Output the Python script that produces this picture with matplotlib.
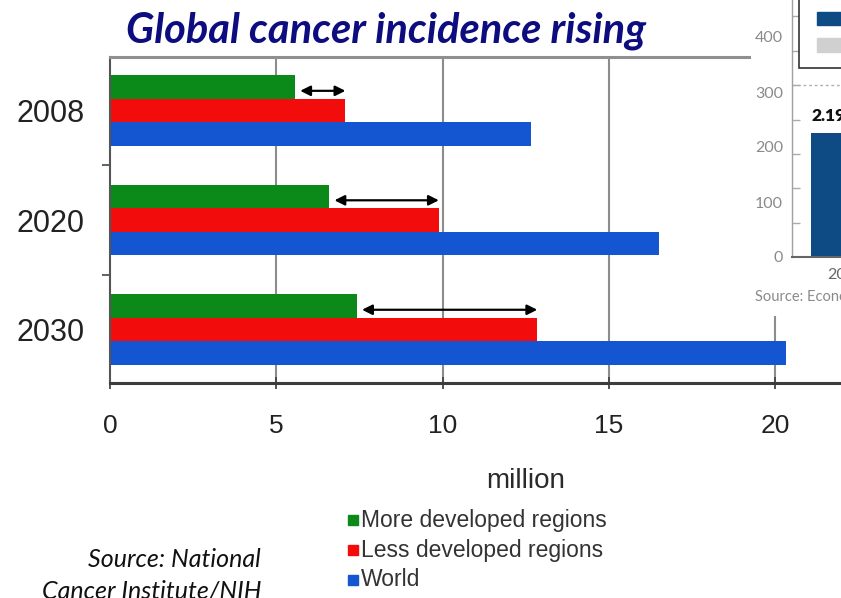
import matplotlib.pyplot as plt
from matplotlib.patches import Rectangle
from matplotlib.ticker import MultipleLocator

plt.rcParams['font.family'] = ['Liberation Sans', 'DejaVu Sans']

# cancer incidence, million cases
years = ['2008', '2020', '2030']
more_dev = [5.57, 6.6, 7.43]
less_dev = [7.08, 9.89, 12.85]
world = [12.67, 16.5, 20.33]
series_names = ['More developed regions', 'Less developed regions', 'World']
colors = ['#0b8a1a', '#f20c0c', '#1456d2']
x_ticks = [0, 5, 10, 15, 20]

# the neighbouring chart that overlaps the right edge
side_ticks = [0, 100, 200, 300, 400]
side_bar = [225]
side_bar_label = '2.19'
side_years = ['2019']

W, H = 841, 598
fig = plt.figure(figsize=(W / 100, H / 100), dpi=100)


def fx(px):
    return px / W


def fy(py):
    return 1 - py / H


ax = fig.add_axes([fx(110), fy(383), fx(841) - fx(110), fy(57) - fy(383)])
h = 0.215
for k, (vals, c) in enumerate(zip([more_dev, less_dev, world], colors)):
    ax.barh([i + (k - 1) * h for i in range(len(years))], vals,
            height=h, color=c, zorder=2)

# gap between more / less developed regions
for i in range(len(years)):
    ya = i - h + 0.035
    ax.annotate('', xy=(less_dev[i], ya), xytext=(more_dev[i] + 0.15, ya),
                arrowprops=dict(arrowstyle='<|-|>,head_length=0.6,head_width=0.3',
                                color='black', lw=1.6, mutation_scale=10,
                                shrinkA=0, shrinkB=0),
                zorder=3)

for v in x_ticks[1:]:
    ax.axvline(v, color='#8c8c8c', lw=1.5, zorder=1)

ax.set_xlim(0, 731 / 33.25)
ax.set_ylim(2.489, -0.489)

ax.spines['right'].set_visible(False)
ax.spines['top'].set_color('#8f8f8f')
ax.spines['top'].set_linewidth(2.2)
ax.spines['left'].set_color('#555555')
ax.spines['left'].set_linewidth(1.5)
ax.spines['bottom'].set_color('#3c3c3c')
ax.spines['bottom'].set_linewidth(2.2)

ax.set_xticks(x_ticks)
ax.tick_params(axis='x', direction='inout', length=9, width=1.3, color='#444444',
               labelsize=19, labelcolor='#222222', pad=18)
ax.set_yticks(range(len(years)))
ax.set_yticklabels(years)
ax.tick_params(axis='y', which='major', length=0, pad=18, labelsize=22,
               labelcolor='#222222')
ax.set_yticks([0.5, 1.5], minor=True)
ax.tick_params(axis='y', which='minor', direction='out', length=6, width=1.3,
               color='#555555')

# legend
for k, name in enumerate(series_names):
    yy = 520 + k * 30
    fig.add_artist(Rectangle((fx(348), fy(yy + 5)), 10 / W, 10 / H,
                             transform=fig.transFigure, color=colors[k]))
    fig.text(fx(361), fy(yy), name, ha='left', va='center', fontsize=16.5,
             color='#333333')

fig.text(fx(526), fy(481), 'million', ha='center', va='center', fontsize=20,
         color='#2a2a2a')

fig.text(fx(386), fy(43), 'Global cancer incidence rising', ha='center',
         va='baseline', fontsize=30, family='Lato', weight='bold',
         style='italic', color='#0d0d80')

source_lines = ['Source: National', 'Cancer Institute/NIH']
for k, line in enumerate(source_lines):
    fig.text(fx(261), fy(567 + k * 31), line, ha='right', va='baseline',
             fontsize=18, family='Lato', style='italic', color='#111111')

# pasted-over chart at the right edge
fig.add_artist(Rectangle((fx(751), fy(316)), 1 - fx(751) + 0.01, 316 / H + 0.01,
                         transform=fig.transFigure, facecolor='white',
                         edgecolor='none', zorder=1))
ax2 = fig.add_axes([fx(792), fy(257), 208 / W, 257 / H], zorder=2)
ax2.patch.set_visible(False)
ax2.set_xlim(0, 1)
ax2.set_ylim(0, 257 / 0.55)
bx, bw = 0.26, 0.337
ax2.bar([bx], side_bar, width=bw, color='#0e4a84', zorder=2)
ax2.text(bx - bw / 2, side_bar[0] + 17, side_bar_label, ha='left', va='bottom',
         fontsize=12.5, family='Lato', weight='heavy', color='#111111')
ax2.axhline(312.5, ls=(0, (2, 2)), color='#b0b0b0', lw=1)

ax2.add_patch(Rectangle((0.034, 344), 1.2, 200, facecolor='white',
                        edgecolor='#333333', lw=1.2, clip_on=False, zorder=3))
ax2.add_patch(Rectangle((0.12, 422), 0.4, 23, color='#0e4a84',
                        clip_on=False, zorder=4))
ax2.add_patch(Rectangle((0.12, 373), 0.4, 25, color='#d0d0d0',
                        clip_on=False, zorder=4))

for s in ['top', 'right']:
    ax2.spines[s].set_visible(False)
ax2.spines['left'].set_color('#a0a0a0')
ax2.spines['left'].set_linewidth(1)
ax2.spines['bottom'].set_color('#666666')
ax2.spines['bottom'].set_linewidth(1.5)

ax2.set_yticks(side_ticks)
ax2.yaxis.set_minor_locator(MultipleLocator(62.5))
ax2.tick_params(axis='y', which='major', length=0, pad=6.5, labelsize=11.5,
                labelcolor='#8a8a8a')
ax2.tick_params(axis='y', which='minor', direction='in', length=6, width=1,
                color='#aaaaaa')
ax2.set_xticks([bx])
ax2.set_xticklabels(side_years)
ax2.tick_params(axis='x', length=0, pad=8, labelsize=11.5, labelcolor='#666666')
for t in ax2.get_yticklabels() + ax2.get_xticklabels():
    t.set_family('Lato')

fig.text(fx(755), fy(297), 'Source: Economic', ha='left', va='center',
         fontsize=10.5, family='Lato', color='#8a8a8a')

fig.savefig('out.png', dpi=100)
